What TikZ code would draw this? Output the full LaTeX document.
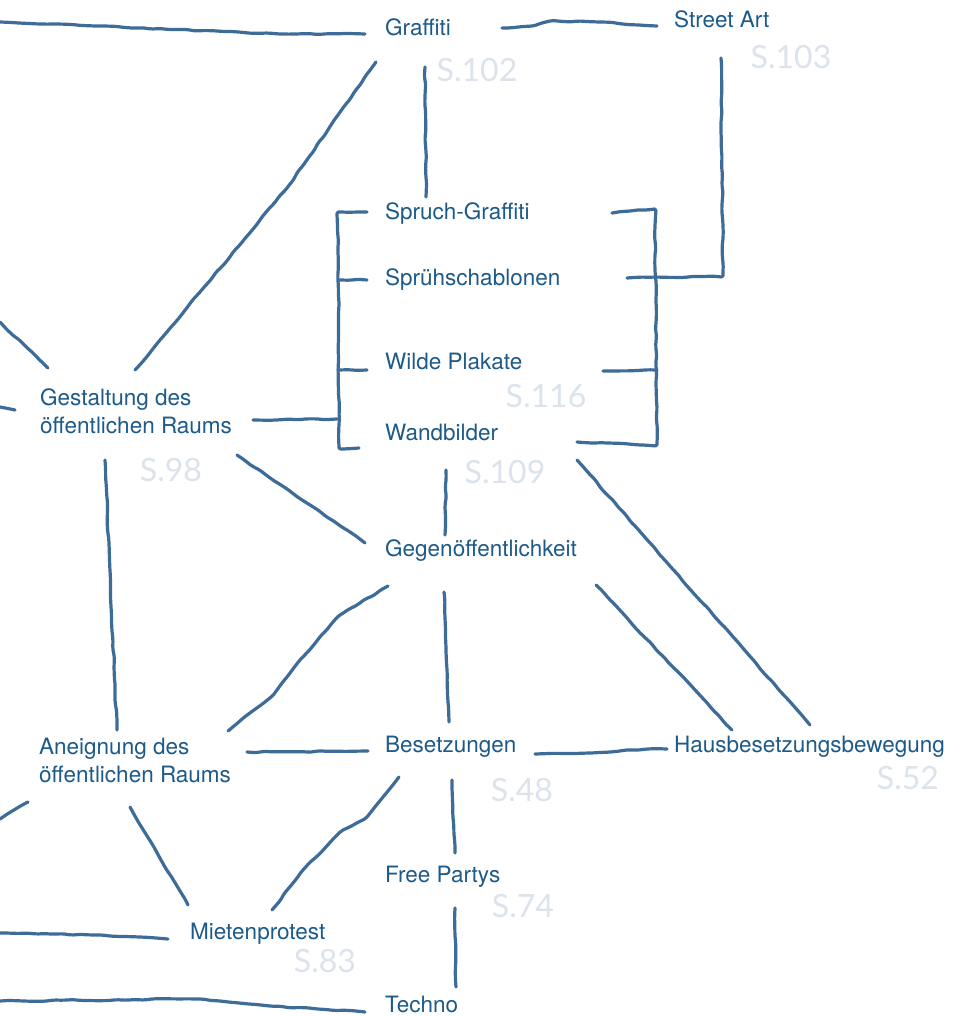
\documentclass[tikz,border=0pt]{standalone}
\usepackage{fontspec}
\setmainfont{TeX Gyre Heros}
\newfontfamily\pagefont{Lato}
\usetikzlibrary{decorations.pathmorphing}
\definecolor{inkline}{HTML}{3E6C99}
\definecolor{labeltext}{HTML}{1D5A89}
\definecolor{pagenote}{HTML}{DCE3EC}

\begin{document}
\pgfmathsetseed{11}
\begin{tikzpicture}[
  x=1pt, y=-1pt,
  lbl/.style={anchor=base west, inner sep=0pt, align=left, text=labeltext,
              font=\fontsize{22.5}{28}\selectfont},
  link/.style={draw=inkline, line width=3.2pt, line cap=round, line join=round,
               rounded corners=2pt, decorate,
               decoration={random steps, segment length=9pt, amplitude=0.7pt}},
  pg/.style={text=pagenote, font=\pagefont\fontsize{32}{32}\selectfont},
]
\useasboundingbox[fill=white] (0,0) rectangle (963,1016);

% labels
\node[lbl] (graffiti)   at (385,36)  {Graffiti};
\node[lbl] (streetart)  at (674,28)  {Street Art};
\node[lbl] (spruch)     at (385,220) {Spruch-Graffiti};
\node[lbl] (schablonen) at (385,285) {Sprühschablonen};
\node[lbl] (plakate)    at (385,369) {Wilde Plakate};
\node[lbl] (wandbilder) at (385,440) {Wandbilder};
\node[lbl] (gestaltung) at (40,433)  {Gestaltung des\\öffentlichen Raums};
\node[lbl] (gegen)      at (385,556) {Gegenöffentlichkeit};
\node[lbl] (aneignung)  at (39,782)  {Aneignung des\\öffentlichen Raums};
\node[lbl] (besetz)     at (385,752) {Besetzungen};
\node[lbl] (haus)       at (674,752) {Hausbesetzungsbewegung};
\node[lbl] (free)       at (385,882) {Free Partys};
\node[lbl] (mieten)     at (190,939) {Mietenprotest};
\node[lbl] (techno)     at (385,1012) {Techno};

% page references
\node[pg] (p102) at (477,70)  {S.102};
\node[pg] (p103) at (791,57)  {S.103};
\node[pg] (p116) at (546,396) {S.116};
\node[pg] (p109) at (505,472) {S.109};
\node[pg] (p98)  at (171,470) {S.98};
\node[pg] (p48)  at (522,790) {S.48};
\node[pg] (p52)  at (908,778) {S.52};
\node[pg] (p74)  at (523,906) {S.74};
\node[pg] (p83)  at (325,961) {S.83};

% loose ends at the page edge
\coordinate (edgeA) at (0,22);
\coordinate (edgeB) at (0,322);
\coordinate (edgeC) at (0,407);
\coordinate (edgeD) at (0,819);
\coordinate (edgeE) at (0,933);
\coordinate (edgeF) at (0,1001);

% top
\draw[link] (edgeA) -- (95,26) -- (280,34) -- ([shift={(-20,-2)}]graffiti.base west);
\draw[link] ([shift={(117,-8)}]graffiti.base west) -- (532,26) -- (550,21) -- (600,22)
  -- ([shift={(-17,-2)}]streetart.base west);
\draw[link] ([shift={(-9,26)}]graffiti.base west) -- (287,188)
  -- ([shift={(95,-63)}]gestaltung.base west);
\draw[link] ([shift={(40,31)}]graffiti.base west) -- ([shift={(41,-23)}]spruch.base west);
\draw[link] ([shift={(47,30)}]streetart.base west) -- (723,276)
  -- ([shift={(242,-7)}]schablonen.base west);

% brackets
\draw[link] ([shift={(227,-7)}]spruch.base west) -- (655,209) -- (657,445)
  -- ([shift={(192,2)}]wandbilder.base west);
\draw[link] ([shift={(218,2)}]plakate.base west) -- (657,370);
\draw[link] ([shift={(-18,-8)}]spruch.base west) -- (338,212) -- (339,448)
  -- ([shift={(-26,8)}]wandbilder.base west);
\draw[link] ([shift={(-18,-5)}]schablonen.base west) -- (339,280);
\draw[link] ([shift={(-18,1)}]plakate.base west) -- (338,370);
\draw[link] ([shift={(213,-13)}]gestaltung.base west) -- (337,419);

% middle
\draw[link] (edgeB) -- ([shift={(8,-65)}]gestaltung.base west);
\draw[link] (edgeC) -- ([shift={(-25,-23)}]gestaltung.base west);
\draw[link] ([shift={(65,27)}]gestaltung.base west) -- ([shift={(78,-52)}]aneignung.base west);
\draw[link] ([shift={(197,22)}]gestaltung.base west) -- ([shift={(-20,-13)}]gegen.base west);
\draw[link] ([shift={(61,30)}]wandbilder.base west) -- ([shift={(60,-21)}]gegen.base west);
\draw[link] ([shift={(192,20)}]wandbilder.base west) -- ([shift={(136,-27)}]haus.base west);
\draw[link] ([shift={(211,29)}]gegen.base west) -- ([shift={(58,-22)}]haus.base west);
\draw[link] ([shift={(3,30)}]gegen.base west) -- (340,615) -- (300,660) -- (274,694)
  -- ([shift={(189,-51)}]aneignung.base west);
\draw[link] ([shift={(59,36)}]gegen.base west) -- ([shift={(64,-30)}]besetz.base west);

% bottom
\draw[link] ([shift={(208,-30)}]aneignung.base west) -- ([shift={(-17,-1)}]besetz.base west);
\draw[link] ([shift={(150,2)}]besetz.base west) -- (590,753) -- (627,750)
  -- ([shift={(-7,-3)}]haus.base west);
\draw[link] ([shift={(14,25)}]besetz.base west) -- (367,817) -- (343,830) -- (303,870)
  -- ([shift={(82,-29)}]mieten.base west);
\draw[link] ([shift={(67,28)}]besetz.base west) -- ([shift={(70,-29)}]free.base west);
\draw[link] ([shift={(70,26)}]free.base west) -- ([shift={(71,-25)}]techno.base west);
\draw[link] ([shift={(91,25)}]aneignung.base west) -- ([shift={(-2,-34)}]mieten.base west);
\draw[link] (edgeD) -- ([shift={(-11,20)}]aneignung.base west);
\draw[link] (edgeE) -- (100,935) -- ([shift={(-22,0)}]mieten.base west);
\draw[link] (edgeF) -- (200,999) -- (270,1006) -- ([shift={(-20,0)}]techno.base west);

\end{tikzpicture}
\end{document}
